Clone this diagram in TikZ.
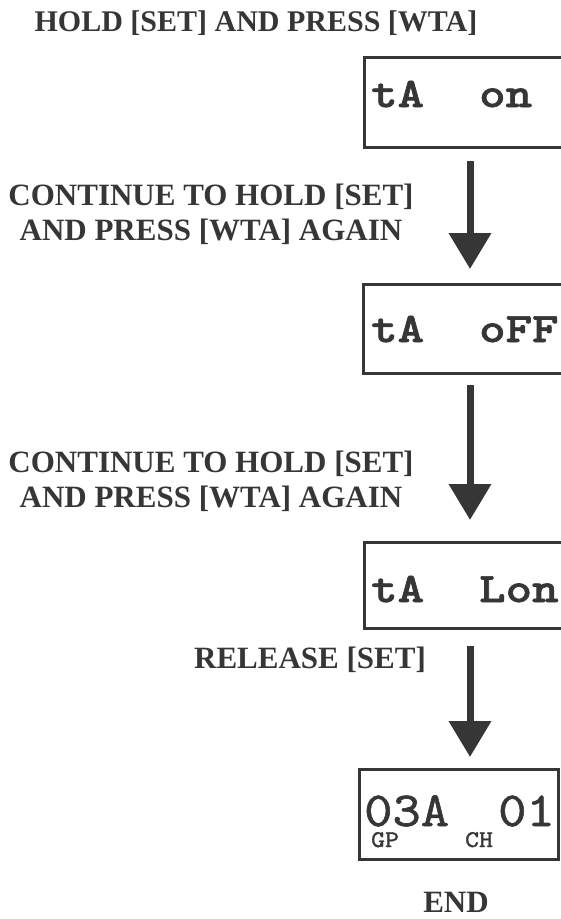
\documentclass[tikz,border=0pt]{standalone}
\usepackage{fontspec}
\setmainfont{Liberation Serif}
\newfontfamily\lcdbf{lmmonolt10-bold.otf}[FakeStretch=1.2, FakeBold=1.6]
\newfontfamily\lcdrm{lmmono10-regular.otf}[FakeStretch=1.1, FakeBold=1.2]
\usetikzlibrary{arrows.meta,calc}
\definecolor{ink}{HTML}{363636}
\tikzset{
  lbl/.style={font=\bfseries\fontsize{31}{35}\selectfont, text=ink, align=center, inner sep=0pt},
  lcdbox/.style={draw=ink, line width=3.2pt, inner sep=0pt, anchor=north west},
  lcdtxt/.style={font=\lcdbf\fontsize{42}{42}\selectfont, text=ink, inner sep=0pt, anchor=base west},
  lcdbig/.style={font=\lcdrm\fontsize{49}{49}\selectfont, text=ink, inner sep=0pt, anchor=base west},
  lcdsmall/.style={font=\lcdrm\fontsize{24}{24}\selectfont, text=ink, inner sep=0pt, anchor=base west},
  bigarr/.style={draw=ink, line width=7pt, -{Triangle[width=41pt,length=36pt]}, ink},
}
\begin{document}
\begin{tikzpicture}[x=1pt,y=-1pt]
\useasboundingbox (0,0) rectangle (561,919);
\clip (0,0) rectangle (561,919);
\coordinate (ax) at (470,0);
% title
\node[lbl, font=\bfseries\fontsize{30}{35}\selectfont] (t0) at (256,23) {HOLD [SET] AND PRESS [WTA]};
% boxes
\node[lcdbox, minimum width=240pt, minimum height=90pt] (b1) at (363,56) {};
\node[lcdtxt] (b1a) at (371,107) {tA};
\node[lcdtxt] (b1b) at (479,107) {on};

\node[lcdbox, minimum width=240pt, minimum height=89pt] (b2) at (362,283) {};
\node[lcdtxt] (b2a) at (371,342) {tA};
\node[lcdtxt] (b2b) at (479,342) {oFF};

\node[lcdbox, minimum width=240pt, minimum height=86pt] (b3) at (363,541) {};
\node[lcdtxt] (b3a) at (371,602) {tA};
\node[lcdtxt] (b3b) at (479,602) {Lon};

\node[lcdbox, minimum width=199pt, minimum height=90pt] (b4) at (358,768) {};
\node[lcdbig] (b4a) at (364,826) {03A};
\node[lcdbig] (b4b) at (498,826) {01};
\node[lcdsmall] (b4c) at (371,847) {GP};
\node[lcdsmall] (b4d) at (465,847) {CH};

% labels
\node[lbl] (l1) at (211,214) {CONTINUE TO HOLD [SET]\\AND PRESS [WTA] AGAIN};
\node[lbl] (l2) at (211,481) {CONTINUE TO HOLD [SET]\\AND PRESS [WTA] AGAIN};
\node[lbl] (l3) at (310,660) {RELEASE [SET]};
\node[lbl] (l4) at (456,902) {END};

% arrows
\draw[bigarr, shorten <=12pt, shorten >=14pt] (b1.south -| ax) -- (b2.north -| ax);
\draw[bigarr, shorten <=10pt, shorten >=21pt] (b2.south -| ax) -- (b3.north -| ax);
\draw[bigarr, shorten <=16pt, shorten >=11pt] (b3.south -| ax) -- (b4.north -| ax);
\end{tikzpicture}
\end{document}
